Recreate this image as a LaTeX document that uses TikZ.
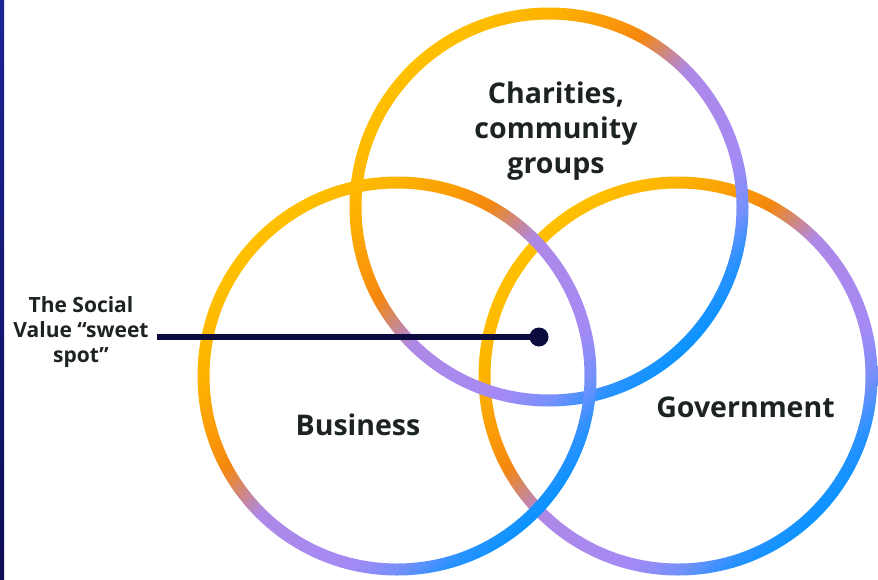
\documentclass[tikz,border=0pt]{standalone}
\usepackage{fontspec}
\setmainfont{Open Sans}
\definecolor{rBlue}{HTML}{0A93FF}
\definecolor{rBlueB}{HTML}{2A92FF}
\definecolor{rPurB}{HTML}{7590FA}
\definecolor{rPur}{HTML}{A48AF5}
\definecolor{rPurA}{HTML}{AE88E6}
\definecolor{rMauve}{HTML}{CE8780}
\definecolor{rOrange}{HTML}{F4870F}
\definecolor{rOrangeA}{HTML}{F9950A}
\definecolor{rYellowA}{HTML}{FDB400}
\definecolor{rYellow}{HTML}{FFC000}
\definecolor{inkText}{HTML}{1C2320}
\definecolor{inkLine}{HTML}{0B0B3D}
\definecolor{barTop}{HTML}{1B2496}
\definecolor{barBot}{HTML}{0D0D55}
% gradient across each ring: blue (lower right) to yellow (upper left)
\pgfdeclareverticalshading{ringshade}{100bp}{%
  color(0bp)=(rBlue); color(25bp)=(rBlue); color(28.5bp)=(rBlueB);
  color(32.5bp)=(rPurB); color(37.5bp)=(rPur); color(50bp)=(rPurA);
  color(53.5bp)=(rMauve); color(57bp)=(rOrange); color(60bp)=(rOrangeA);
  color(67.5bp)=(rYellowA); color(75bp)=(rYellow); color(100bp)=(rYellow)}
\begin{document}
\begin{tikzpicture}[x=1pt,y=-1pt,
  ring/.style={shading=ringshade, shading angle=45, even odd rule},
  bigtext/.style={font=\fontsize{28.5}{35}\selectfont\bfseries, text=inkText, inner sep=0pt, align=center},
  smalltext/.style={font=\fontsize{21}{25}\selectfont\bfseries, text=inkText, inner sep=0pt, align=center},
  pointer/.style={draw=inkLine, line width=6pt},
  spotdot/.style={circle, fill=inkLine, minimum size=19pt, inner sep=0pt}]
\useasboundingbox (0,0) rectangle (878,579);
\fill[white] (0,0) rectangle (878,579);
% navy strip along the left edge
\shade[top color=barTop, bottom color=barBot] (0,0) rectangle (4,579);

% circle centres
\coordinate (gov) at (678,376);
\coordinate (cha) at (549,207);
\coordinate (bus) at (397,376);

% rings, back to front
\shade[ring] (gov) circle [radius=199.5pt] (gov) circle [radius=187.5pt];
\shade[ring] (cha) circle [radius=199.5pt] (cha) circle [radius=187.5pt];
\shade[ring] (bus) circle [radius=199.5pt] (bus) circle [radius=187.5pt];

% labels
\node[bigtext] (chaT) at (556,131) {Charities,\\community\\groups};
\node[bigtext, anchor=base] (busT) at (358,435) {Business};
\node[bigtext, anchor=base] (govT) at (745.5,417) {Government};

% sweet spot pointer
\node[smalltext] (spotT) at (81,332) {The Social\\Value “sweet\\spot”};
\node[spotdot] (spot) at (539,337) {};
\coordinate (pstart) at (157,337);
\draw[pointer] (pstart) -- (spot.center);
\end{tikzpicture}
\end{document}
